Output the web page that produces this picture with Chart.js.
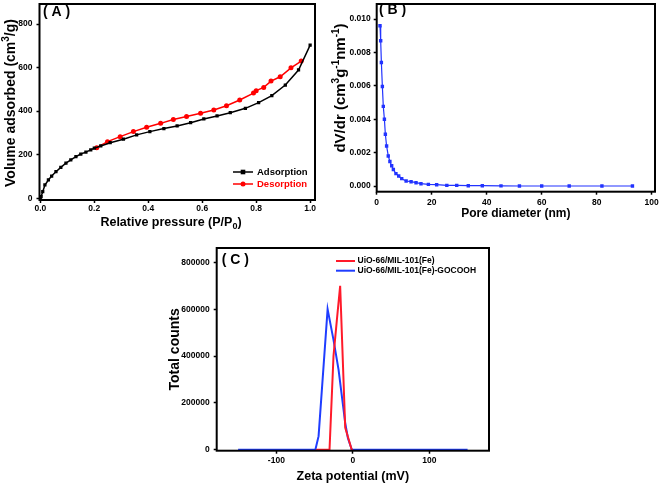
<!DOCTYPE html>
<html>
<head>
<meta charset="utf-8">
<script src="https://cdn.jsdelivr.net/npm/chart.js@4"></script>
<style>
html,body{margin:0;padding:0;background:#fff;width:661px;height:484px;overflow:hidden;position:relative;}
canvas{position:absolute;}
</style>
</head>
<body>
<canvas id="cA" width="330" height="230" style="left:0;top:0;width:330px;height:230px"></canvas>
<canvas id="cB" width="331" height="230" style="left:330px;top:0;width:331px;height:230px"></canvas>
<canvas id="cC" width="350" height="248" style="left:150px;top:236px;width:350px;height:248px"></canvas>
<script>
// ---------- Panel A : N2 isotherm ----------
const adsX = [0, 0.003, 0.009, 0.017, 0.03, 0.042, 0.058, 0.076, 0.095, 0.113, 0.132, 0.15, 0.169, 0.187, 0.2, 0.224, 0.259, 0.308, 0.357, 0.406, 0.458, 0.507, 0.557, 0.606, 0.655, 0.704, 0.76, 0.809, 0.858, 0.908, 0.957, 1.0];
const adsY = [0, 8, 30, 61, 84, 102, 122, 142, 161, 176, 191, 203, 212, 222, 230, 240, 255, 271, 291, 306, 320, 332, 347, 364, 378, 393, 413, 439, 471, 520, 589, 703];
const desX = [0.967, 0.929, 0.889, 0.855, 0.828, 0.80, 0.79, 0.739, 0.69, 0.643, 0.594, 0.542, 0.493, 0.446, 0.394, 0.345, 0.296, 0.249, 0.209];
const desY = [630, 599, 558, 538, 509, 494, 483, 451, 425, 405, 390, 375, 362, 344, 326, 306, 283, 260, 232];
const aXTicks = [0, 0.2, 0.4, 0.6, 0.8, 1.0];
const aYTicks = [0, 200, 400, 600, 800];

// ---------- Panel B : pore size distribution ----------
const poreX = [1.2, 1.45, 1.7, 2.06, 2.4, 2.8, 3.15, 3.6, 4.2, 4.8, 5.45, 6.06, 7.0, 8.0, 9.1, 10.7, 12.5, 14.3, 16.1, 18.8, 21.8, 25.5, 29.1, 33.3, 38.4, 45.2, 51.9, 60, 70, 81.9, 93];
const poreY = [0.0096, 0.0087, 0.0074, 0.00596, 0.00477, 0.0040, 0.0031, 0.0024, 0.0018, 0.00147, 0.00121, 0.00099, 0.00074, 0.0006, 0.00044, 0.0003, 0.00026, 0.0002, 0.00014, 0.0001, 0.00008, 0.00004, 0.00004, 0.00002, 0.00002, 0.00001, 0, 0, 0, 0, 0];
const bXTicks = [0, 20, 40, 60, 80, 100];
const bYTicks = [0, 0.002, 0.004, 0.006, 0.008, 0.010];

// ---------- Panel C : zeta potential ----------
const zetaRedX = [-48, -30.5, -25.3, -21, -16.6, -10, -6, -1.5, 0];
const zetaRedY = [0, 0, 400000, 550000, 700000, 95000, 50000, 0, 0];
const zetaBlueX = [-150, -49, -44.8, -33, -25.3, -18.7, -10, -6.5, -1.3, 150];
const zetaBlueY = [0, 0, 58000, 600000, 469000, 342000, 115000, 50000, 0, 0];
const cXTicks = [-100, 0, 100];
const cYTicks = [0, 200000, 400000, 600000, 800000];

const zip = (xs, ys) => xs.map((x, i) => ({x: x, y: ys[i]}));
const FONT = "'Liberation Sans', Arial, sans-serif";

// draws a title made of runs, some of them superscript/subscript
function drawRich(ctx, runs, cx, cy, rot, size) {
  const small = Math.round(size * 0.68);
  const fontOf = r => 'bold ' + (r.sup || r.sub ? small : size) + 'px ' + FONT;
  let total = 0;
  runs.forEach(r => { ctx.font = fontOf(r); r.w = ctx.measureText(r.t).width; total += r.w; });
  ctx.save();
  ctx.translate(cx, cy);
  ctx.rotate(rot);
  ctx.fillStyle = '#000';
  ctx.textBaseline = 'alphabetic';
  ctx.textAlign = 'left';
  let x = -total / 2;
  const base = size * 0.36;
  runs.forEach(r => {
    ctx.font = fontOf(r);
    let dy = 0;
    if (r.sup) dy = -size * 0.42;
    if (r.sub) dy = size * 0.3;
    ctx.fillText(r.t, x, base + dy);
    x += r.w;
  });
  ctx.restore();
}

const framePlugin = {
  id: 'frame',
  afterDatasetsDraw(chart) {
    const a = chart.chartArea, ctx = chart.ctx;
    ctx.save();
    ctx.strokeStyle = '#000';
    ctx.lineWidth = 2;
    ctx.strokeRect(a.left, a.top, a.right - a.left, a.bottom - a.top);
    ctx.restore();
  },
  afterDraw(chart, args, opts) {
    const ctx = chart.ctx;
    ctx.save();
    if (opts.label) {
      ctx.font = 'bold 14px ' + FONT;
      ctx.fillStyle = '#000';
      ctx.textBaseline = 'middle';
      ctx.textAlign = 'left';
      ctx.fillText(opts.label.text, opts.label.x, opts.label.y);
    }
    (opts.titles || []).forEach(t => drawRich(ctx, t.runs, t.x, t.y, t.rot, t.size));
    if (opts.legend) {
      const L = opts.legend;
      ctx.font = 'bold ' + L.size + 'px ' + FONT;
      ctx.textBaseline = 'middle';
      ctx.textAlign = 'left';
      L.items.forEach((it, i) => {
        const ds = chart.data.datasets[it.ds];
        const y = L.y + i * L.dy;
        ctx.strokeStyle = ds.borderColor;
        ctx.lineWidth = ds.borderWidth;
        ctx.beginPath();
        ctx.moveTo(L.x, y);
        ctx.lineTo(L.x + L.len, y);
        ctx.stroke();
        if (ds.pointRadius > 0) {
          ctx.fillStyle = ds.borderColor;
          const r = ds.pointRadius, cx = L.x + L.len / 2;
          if (ds.pointStyle === 'rect') {
            ctx.fillRect(cx - r, y - r, 2 * r, 2 * r);
          } else {
            ctx.beginPath(); ctx.arc(cx, y, r, 0, Math.PI * 2); ctx.fill();
          }
        }
        ctx.fillStyle = it.textColor;
        ctx.fillText(ds.label, L.x + L.len + L.gap, y);
      });
    }
    ctx.restore();
  }
};

function axis(opts) {
  return {
    type: 'linear',
    min: opts.min, max: opts.max,
    afterBuildTicks: s => { s.ticks = opts.ticks.map(v => ({value: v})); },
    afterFit: s => {
      if (opts.width != null) s.width = opts.width;
      if (opts.height != null) s.height = opts.height;
      s.paddingTop = 0; s.paddingBottom = 0; s.paddingLeft = 0; s.paddingRight = 0;
    },
    grid: {display: true, drawOnChartArea: false, drawTicks: true, tickLength: 3, tickColor: '#000', tickWidth: 1.5},
    border: {display: false},
    ticks: {
      color: '#000', padding: opts.tickPad, maxRotation: 0, autoSkip: false,
      font: {family: FONT, size: 8.5, weight: 'bold'},
      callback: opts.fmt
    },
    title: {
      display: !!opts.title, text: opts.title || '', color: '#000',
      font: {family: FONT, size: opts.titleSize || 12, weight: 'bold'},
      padding: opts.titlePad || 0
    }
  };
}

Chart.defaults.animation = false;

// Panel A
new Chart(document.getElementById('cA'), {
  type: 'line',
  data: {datasets: [
    {label: 'Adsorption', data: zip(adsX, adsY), borderColor: '#000', backgroundColor: '#000', borderWidth: 1.5, pointStyle: 'rect', pointRadius: 2.3, pointBorderWidth: 0, tension: 0},
    {label: 'Desorption', data: zip(desX, desY), borderColor: '#ff0000', backgroundColor: '#ff0000', borderWidth: 1.5, pointStyle: 'circle', pointRadius: 2.5, pointBorderWidth: 0, tension: 0}
  ]},
  plugins: [framePlugin],
  options: {
    responsive: false,
    layout: {padding: {top: 4, right: 15, left: 0, bottom: 0}},
    plugins: {
      legend: {display: false}, tooltip: {enabled: false},
      frame: {
        label: {text: '( A )', x: 43, y: 12.5},
        titles: [
          {runs: [{t: 'Volume adsorbed (cm'}, {t: '3', sup: true}, {t: '/g)'}], x: 10, y: 103, rot: -Math.PI / 2, size: 14},
          {runs: [{t: 'Relative pressure (P/P'}, {t: '0', sub: true}, {t: ')'}], x: 171, y: 221, rot: 0, size: 12.5}
        ],
        legend: {x: 233, y: 172, dy: 12, len: 20, gap: 4, size: 9.5, items: [{ds: 0, textColor: '#000'}, {ds: 1, textColor: '#ff0000'}]}
      }
    },
    scales: {
      x: axis({min: -0.003, max: 1.018, ticks: aXTicks, fmt: v => v.toFixed(1), height: 30, tickPad: 1}),
      y: axis({min: -8, max: 892, ticks: aYTicks, fmt: v => String(v), width: 39.5, tickPad: 4})
    }
  }
});

// Panel B
new Chart(document.getElementById('cB'), {
  type: 'line',
  data: {datasets: [
    {label: 'PSD', data: zip(poreX, poreY), borderColor: '#2233ff', backgroundColor: '#2233ff', borderWidth: 1.2, pointStyle: 'rect', pointRadius: 2.4, pointBorderWidth: 0, tension: 0}
  ]},
  plugins: [framePlugin],
  options: {
    responsive: false,
    layout: {padding: {top: 3, right: 6, left: 0, bottom: 0}},
    plugins: {
      legend: {display: false}, tooltip: {enabled: false},
      frame: {
        label: {text: '( B )', x: 49, y: 10},
        titles: [
          {runs: [{t: 'dV/dr (cm'}, {t: '3', sup: true}, {t: 'g'}, {t: '-1', sup: true}, {t: 'nm'}, {t: '-1', sup: true}, {t: ')'}], x: 10, y: 88, rot: -Math.PI / 2, size: 15}
        ]
      }
    },
    scales: {
      x: axis({min: 0, max: 101.2, ticks: bXTicks, fmt: v => String(v), height: 38.3, tickPad: 3, title: 'Pore diameter (nm)', titleSize: 12, titlePad: {top: 0, bottom: 9}}),
      y: axis({min: -0.00034, max: 0.0109, ticks: bYTicks, fmt: v => v.toFixed(3), width: 46.7, tickPad: 3})
    }
  }
});

// Panel C
new Chart(document.getElementById('cC'), {
  type: 'line',
  data: {datasets: [
    {label: 'UiO-66/MIL-101(Fe)', data: zip(zetaRedX, zetaRedY), borderColor: '#ff1a2a', borderWidth: 2, pointRadius: 0, tension: 0},
    {label: 'UiO-66/MIL-101(Fe)-GOCOOH', data: zip(zetaBlueX, zetaBlueY), borderColor: '#1f3dff', borderWidth: 2, pointRadius: 0, tension: 0}
  ]},
  plugins: [framePlugin],
  options: {
    responsive: false,
    layout: {padding: {top: 12, right: 11, left: 0, bottom: 0}},
    plugins: {
      legend: {display: false}, tooltip: {enabled: false},
      frame: {
        label: {text: '( C )', x: 71.7, y: 24},
        legend: {x: 186, y: 25, dy: 9.7, len: 19, gap: 2.5, size: 8.5, items: [{ds: 0, textColor: '#000'}, {ds: 1, textColor: '#000'}]}
      }
    },
    scales: {
      x: axis({min: -178, max: 178, ticks: cXTicks, fmt: v => String(v), height: 33.3, tickPad: 2, title: 'Zeta potential (mV)', titleSize: 12.5, titlePad: {top: 0, bottom: 0}}),
      y: axis({min: -4000, max: 861000, ticks: cYTicks, fmt: v => String(v), width: 66.7, tickPad: 4, title: 'Total counts', titleSize: 14, titlePad: {top: 17, bottom: 0}})
    }
  }
});
</script>
</body>
</html>
